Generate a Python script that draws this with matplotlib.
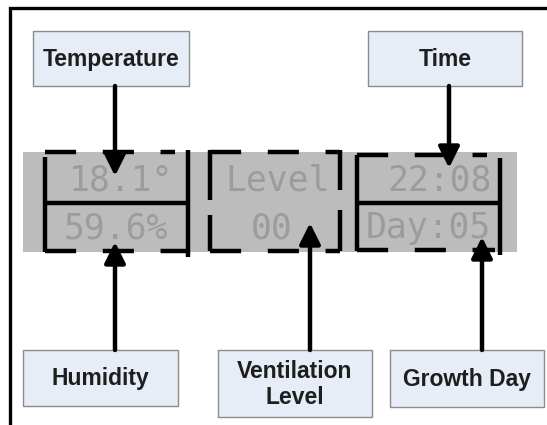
import matplotlib.pyplot as plt
from matplotlib.patches import Rectangle

# label boxes and LCD readings
box_labels = ["Temperature", "Time", "Humidity", "Ventilation\nLevel", "Growth Day"]
lcd_top = ["18.1°", "Level", "22:08"]
lcd_bottom = ["59.6%", "00", "Day:05"]

W, H = 547, 425
fig = plt.figure(figsize=(W / 100, H / 100), dpi=100)
ax = fig.add_axes([0, 0, 1, 1])
ax.set_xlim(0, W)
ax.set_ylim(H, 0)
ax.axis('off')

# outer frame (only left and top edges visible)
ax.plot([10, 10, W + 5], [H + 5, 8, 8], color='black', lw=2.4, solid_joinstyle='miter')

# LCD panel
ax.add_patch(Rectangle((23, 152), 494, 100, facecolor='#bcbcbc', edgecolor='none', zorder=1))

lcd_font = dict(family='DejaVu Sans Mono', fontsize=25, color='#9c9c9c', ha='center', va='center', zorder=2)
top_x = [121, 278, 440]
bot_x = [116, 272, 428]
for s, x in zip(lcd_top, top_x):
    ax.text(x, 180, s, **lcd_font)
for s, x in zip(lcd_bottom, bot_x):
    ax.text(x, 228, s, **lcd_font)

lw_b = 3.2
dash = (0, (7, 6))

def hline(x0, x1, y, dashed=True):
    ax.plot([x0, x1], [y, y], color='black', lw=lw_b, zorder=3,
            linestyle=dash if dashed else '-', solid_capstyle='butt', dash_capstyle='butt')

def vline(x, y0, y1, dashed=False):
    ax.plot([x, x], [y0, y1], color='black', lw=lw_b, zorder=3,
            linestyle=dash if dashed else '-', solid_capstyle='butt', dash_capstyle='butt')

# left group
vline(45, 157, 252)
vline(188, 150, 257)
hline(45, 175, 152)
hline(45, 188, 203, dashed=False)
hline(45, 188, 251)
# middle group
vline(210, 150, 200)
vline(210, 215, 251)
vline(340, 150, 190)
vline(340, 210, 251)
hline(210, 340, 152)
hline(210, 340, 251)
# right group
vline(357, 155, 251)
vline(500, 158, 255)
hline(357, 487, 155)
hline(357, 500, 203, dashed=False)
hline(357, 495, 250)

# label boxes
boxes = [(33, 31, 156, 55), (368, 31, 154, 55), (23, 350, 155, 56),
         (218, 350, 154, 67), (390, 350, 154, 57)]
for (x, y, w, h), lab in zip(boxes, box_labels):
    ax.add_patch(Rectangle((x, y), w, h, facecolor='#e6edf6', edgecolor='#8c8c8c', lw=1.0, zorder=4))
    ax.text(x + w / 2, y + h / 2 + 1, lab, ha='center', va='center', fontsize=16.5,
            fontweight='bold', family='Liberation Sans', color='#1e1e1e', linespacing=1.15, zorder=5)

# arrows: (x, tail_y, tip_y)
arrows = [(115, 86, 176), (449, 86, 168), (115, 350, 242), (310, 350, 223), (482, 350, 237)]
for x, y0, y1 in arrows:
    ax.annotate('', xy=(x, y1), xytext=(x, y0),
                arrowprops=dict(arrowstyle='-|>,head_length=0.9,head_width=0.45', lw=3.2,
                                color='black', shrinkA=0, shrinkB=0, mutation_scale=14),
                zorder=6)

fig.savefig('out.png', dpi=100)
